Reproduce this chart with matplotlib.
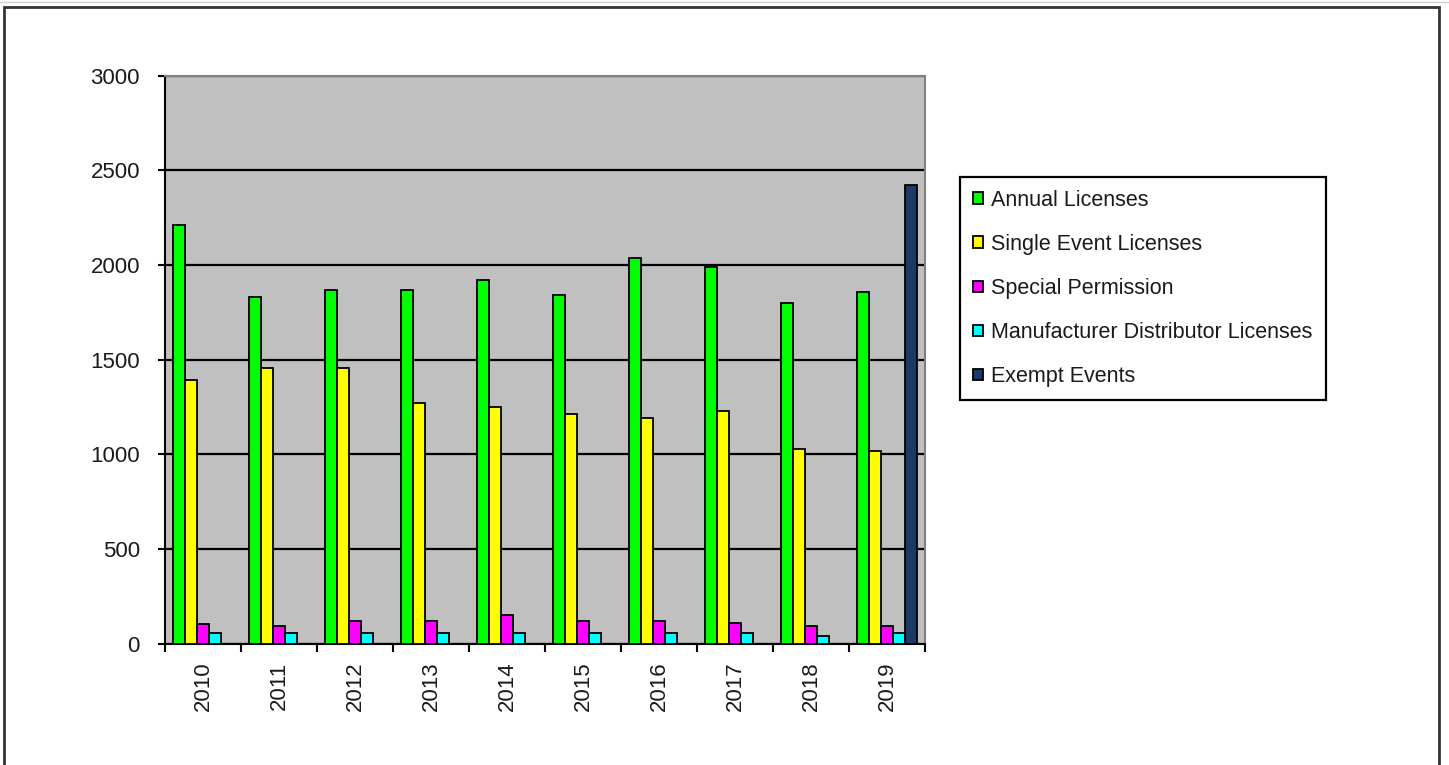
import matplotlib
matplotlib.use("Agg")
import matplotlib.pyplot as plt
import numpy as np
from matplotlib.patches import Rectangle
from matplotlib.lines import Line2D

years = ["2010", "2011", "2012", "2013", "2014", "2015", "2016", "2017", "2018", "2019"]
annual = [2210, 1830, 1870, 1870, 1920, 1840, 2035, 1990, 1800, 1855]
single_event = [1390, 1455, 1455, 1270, 1250, 1215, 1190, 1230, 1030, 1015]
special_perm = [105, 92, 118, 118, 148, 118, 118, 107, 92, 92]
manufacturer = [54, 54, 54, 54, 54, 54, 54, 54, 40, 54]
exempt = [0, 0, 0, 0, 0, 0, 0, 0, 0, 2425]

series_names = ["Annual Licenses", "Single Event Licenses", "Special Permission",
                "Manufacturer Distributor Licenses", "Exempt Events"]
series_values = [annual, single_event, special_perm, manufacturer, exempt]
colors = ["#00FF00", "#FFFF00", "#FF00FF", "#00FFFF", "#1C3A66"]

plt.rcParams['font.family'] = ['Liberation Sans', 'DejaVu Sans']

W, H = 1449, 765
fig = plt.figure(figsize=(W / 100, H / 100), dpi=100)
fig.patch.set_facecolor("white")

ax = fig.add_axes([165 / W, 1 - 643.5 / H, (925 - 165) / W, (643.5 - 75.75) / H])
ax.set_facecolor("#C0C0C0")

x = np.arange(len(years))
bw = 0.158
for i, (name, vals, c) in enumerate(zip(series_names, series_values, colors)):
    ax.bar(x + (i - 2) * bw, vals, width=bw, color=c, edgecolor="black",
           linewidth=1.3, label=name, zorder=3)

ax.set_xlim(-0.5, len(years) - 0.5)
ax.set_ylim(0, 3000)
ax.set_yticks(np.arange(0, 3001, 500))
ax.yaxis.grid(True, color="black", linewidth=1.6, zorder=1)
ax.set_axisbelow(True)

ax.set_xticks(x)
ax.set_xticklabels(years, rotation=90, fontsize=16, color="#1a1a1a")
ax.set_xticks(np.arange(-0.5, len(years), 1.0), minor=True)
ax.tick_params(axis="x", which="major", length=0, pad=13)
ax.tick_params(axis="x", which="minor", length=6, width=1.5, direction="out", color="black")
ax.tick_params(axis="y", which="major", length=5, width=1.5, direction="out",
               labelsize=16, pad=13, labelcolor="#1a1a1a")

for s in ["left", "bottom"]:
    ax.spines[s].set_color("black")
    ax.spines[s].set_linewidth(1.5)
for s in ["top", "right"]:
    ax.spines[s].set_color("#808080")
    ax.spines[s].set_linewidth(1.5)

leg = ax.legend(loc="upper left", bbox_to_anchor=(960 / W, 1 - 177 / H),
                bbox_transform=fig.transFigure, borderaxespad=0,
                fontsize=15.5, frameon=True, fancybox=False, shadow=False,
                handlelength=0.45, handleheight=0.45, handletextpad=0.4,
                labelspacing=1.07, borderpad=0.6, framealpha=1)
leg.get_frame().set_edgecolor("black")
leg.get_frame().set_linewidth(1.6)
for t in leg.get_texts():
    t.set_color("#1a1a1a")

# outer chart border
fig.patches.append(Rectangle((4 / W, -0.01), (1439 - 4) / W, 1 - 7 / H + 0.01,
                             transform=fig.transFigure, fill=False,
                             edgecolor="#333333", linewidth=2))
fig.lines.append(Line2D([0, 1], [1 - 2 / H, 1 - 2 / H], transform=fig.transFigure,
                        color="#D0D0D0", linewidth=1))

fig.savefig("out.png", dpi=100)
